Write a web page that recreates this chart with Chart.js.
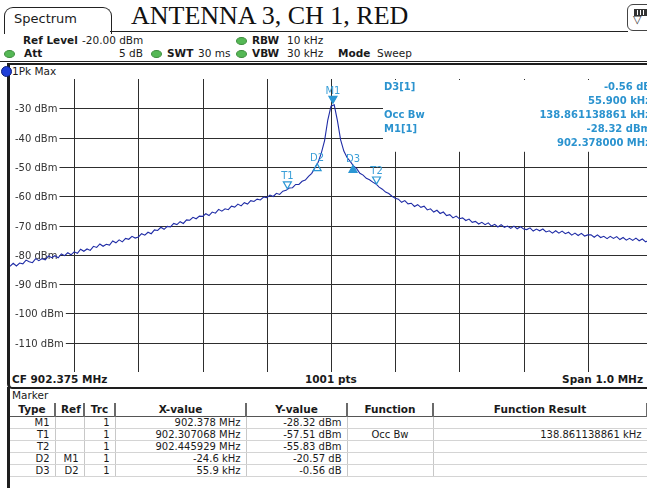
<!DOCTYPE html>
<html>
<head>
<meta charset="utf-8">
<script src="https://cdn.jsdelivr.net/npm/chart.js@4.4.1/dist/chart.umd.min.js"></script>
<style>
html,body{margin:0;padding:0;background:#fff;width:647px;height:488px;overflow:hidden;position:relative;font-family:"DejaVu Sans",Verdana,sans-serif;color:#1a1a1a}
.a{position:absolute;white-space:nowrap;line-height:12px;font-size:10.5px}
.b{font-weight:bold}
.dot{position:absolute;width:9px;height:6px;border-radius:50%;background:#55b855;border:0.5px solid #3d8d3d}
.info{position:absolute;white-space:nowrap;font:bold 10px "DejaVu Sans",sans-serif;color:#2b93cf;line-height:12px}
table{position:absolute;border-collapse:collapse;table-layout:fixed;font-size:10px;line-height:11px}
td,th{padding:0 5px;overflow:hidden;white-space:nowrap}
th{font-weight:bold;font-size:10.5px;height:13px;border-right:2px solid #6a6a6a;border-bottom:1px solid #555;text-align:center}
td{height:11px;border-right:1px solid #c8c8c8;border-bottom:1px solid #d4d4d4;text-align:right}
</style>
</head>
<body>
<script>
// ---------- DATA ----------
const centerFreqMHz = 902.375;
const spanMHz = 1.0;
const sweepPoints = 1001;
// trace frequency (kHz offset from centre frequency)
const freqKHz = [-500,-495,-490,-485,-480,-475,-470,-465,-460,-455,-450,-445,-440,-435,-430,-425,-420,-415,-410,-405,
-400,-395,-390,-385,-380,-375,-370,-365,-360,-355,-350,-345,-340,-335,-330,-325,-320,-315,-310,-305,
-300,-295,-290,-285,-280,-275,-270,-265,-260,-255,-250,-245,-240,-235,-230,-225,-220,-215,-210,-205,
-200,-195,-190,-185,-180,-175,-170,-165,-160,-155,-150,-145,-140,-135,-130,-125,-120,-115,-110,-105,
-100,-95,-90,-85,-80,-75,-70,-65,-60,-55,-50,-45,-40,-35,-30,-25,-20,-15,-10,-5,
0,
5,10,15,20,25,30,35,40,45,50,55,60,65,70,75,80,85,90,95,100,
105,110,115,120,125,130,135,140,145,150,155,160,165,170,175,180,185,190,195,200,
205,210,215,220,225,230,235,240,245,250,255,260,265,270,275,280,285,290,295,300,
305,310,315,320,325,330,335,340,345,350,355,360,365,370,375,380,385,390,395,400,
405,410,415,420,425,430,435,440,445,450,455,460,465,470,475,480,485,490,495,500];
// trace level (dBm), 1Pk Max
const levelDbm = [-83.9,-82.9,-83.8,-82.8,-83.1,-81.8,-82.4,-82.7,-81.3,-82.0,-81.3,-81.7,-80.4,-81.0,-80.3,-81.0,-79.7,-80.3,-79.3,-80.0,
-79.0,-79.5,-78.1,-78.8,-78.0,-78.5,-77.1,-77.5,-76.3,-77.1,-76.4,-76.7,-75.3,-75.9,-74.9,-75.6,-74.4,-74.7,-73.7,-74.3,
-73.9,-72.8,-73.3,-72.3,-72.8,-71.5,-71.7,-70.6,-71.3,-70.3,-70.5,-69.3,-69.7,-68.7,-69.3,-68.1,-68.2,-67.2,-67.7,-66.8,
-66.9,-66.0,-66.6,-65.4,-65.8,-64.5,-65.1,-64.3,-64.6,-63.4,-63.7,-62.7,-63.3,-62.2,-62.7,-61.5,-61.8,-61.0,-61.3,-60.3,
-60.5,-59.6,-60.1,-59.0,-59.4,-58.3,-58.0,-57.2,-57.1,-56.0,-56.0,-54.9,-54.5,-53.2,-52.2,-50.3,-48.4,-45.2,-41.0,-34.0,
-29.3,
-28.8,-34.2,-40.8,-44.6,-46.8,-48.1,-49.7,-50.6,-52.2,-52.8,-53.9,-54.4,-55.2,-55.8,-56.9,-57.6,-58.6,-59.1,-60.0,-60.7,
-61.0,-62.1,-61.5,-62.6,-62.4,-63.5,-62.9,-63.8,-63.4,-64.7,-64.3,-65.4,-64.8,-65.9,-65.4,-66.6,-66.3,-67.4,-66.8,-67.7,
-67.4,-68.3,-67.8,-68.9,-68.6,-69.5,-68.9,-69.7,-69.1,-70.2,-69.6,-70.5,-69.7,-70.6,-70.2,-71.0,-70.2,-71.1,-70.4,-71.2,
-71.4,-70.8,-71.9,-71.2,-71.8,-71.2,-72.2,-71.8,-72.6,-71.8,-72.6,-71.9,-72.8,-72.3,-73.3,-72.6,-73.4,-72.7,-73.6,-73.2,
-73.2,-74.0,-73.2,-74.1,-73.7,-74.5,-73.7,-74.4,-73.8,-74.8,-74.1,-75.0,-74.4,-75.1,-74.3,-75.2,-74.6,-75.6,-75.0,-75.6];
// axis grid / ticks
const xGridKHz = [-400,-300,-200,-100,0,100,200,300,400];
const yGridDbm = [-30,-40,-50,-60,-70,-80,-90,-100,-110];
const yTickLabels = ['-30 dBm','-40 dBm','-50 dBm','-60 dBm','-70 dBm','-80 dBm','-90 dBm','-100 dBm','-110 dBm'];
const refLevelDbm = -20;
const bottomLevelDbm = -120;
// markers
const markerNames = ['M1','T1','T2','D2','D3'];
const markerFreqKHz = [3.0, -67.932, 70.929, -21.6, 34.3];
const markerLevelDbm = [-28.32, -57.51, -55.83, -48.89, -49.45];
const markerPointsDown = [true, true, true, false, false];
const markerFilled = [true, false, false, false, true];
// marker table
const tableRows = [
  ['M1','', '1','902.378 MHz','-28.32 dBm','',''],
  ['T1','', '1','902.307068 MHz','-57.51 dBm','Occ Bw','138.861138861 kHz'],
  ['T2','', '1','902.445929 MHz','-55.83 dBm','',''],
  ['D2','M1','1','-24.6 kHz','-20.57 dB','',''],
  ['D3','D2','1','55.9 kHz','-0.56 dB','','']
];
const tableHeaders = ['Type','Ref','Trc','X-value','Y-value','Function','Function Result'];
</script>

<!-- tab + title -->
<div style="position:absolute;left:4px;top:7px;width:106px;height:26px;border:1.5px solid #222;border-bottom:none;border-radius:9px 9px 0 0;background:#fff"></div>
<div class="a" style="left:14px;top:12px;font-size:13px;line-height:14px">Spectrum</div>
<div class="a" style="left:131px;top:3px;font:26px 'Liberation Serif',serif;line-height:26px;color:#111">ANTENNA 3, CH 1, RED</div>
<!-- icon -->
<div style="position:absolute;left:627px;top:4px;width:26px;height:25px;border:1.5px solid #444;border-radius:6px;background:#fff"></div>
<div style="position:absolute;left:634px;top:9px;width:11px;height:5px;border:1px solid #333;background:repeating-linear-gradient(90deg,#333 0 2px,#fff 2px 3px)"></div>
<div class="a" style="left:633px;top:14px;font-size:11px;color:#333">▽</div>
<!-- header box lines -->
<div style="position:absolute;left:110px;top:31px;width:518px;height:0;border-top:1.5px solid #222"></div>
<div style="position:absolute;left:0px;top:61px;width:647px;height:0;border-top:1.5px solid #222"></div>
<!-- header row 1 -->
<div class="a b" style="left:23px;top:34px">Ref Level</div>
<div class="a" style="left:82px;top:34px">-20.00 dBm</div>
<div class="dot" style="left:236px;top:37px"></div>
<div class="a b" style="left:252px;top:34px">RBW</div>
<div class="a" style="left:287px;top:34px">10 kHz</div>
<!-- header row 2 -->
<div class="dot" style="left:4px;top:50px"></div>
<div class="a b" style="left:24px;top:47px">Att</div>
<div class="a" style="left:119px;top:47px">5 dB</div>
<div class="dot" style="left:151px;top:50px"></div>
<div class="a b" style="left:167px;top:47px">SWT</div>
<div class="a" style="left:198px;top:47px">30 ms</div>
<div class="dot" style="left:236px;top:50px"></div>
<div class="a b" style="left:252px;top:47px">VBW</div>
<div class="a" style="left:287px;top:47px">30 kHz</div>
<div class="a b" style="left:338px;top:47px">Mode</div>
<div class="a" style="left:377px;top:47px">Sweep</div>

<!-- trace window frame -->
<div style="position:absolute;left:7px;top:63px;width:660px;height:322px;border:2px solid #1e1e1e;border-right:none;border-radius:0 0 0 5px;border-left-width:3px"></div>
<div style="position:absolute;left:1px;top:66px;width:9px;height:9px;border-radius:50%;background:#1f3fd8;border:0.5px solid #10207a"></div>
<div class="a" style="left:12px;top:65px">1Pk Max</div>

<div id="plot" style="position:absolute;left:10px;top:79px;width:642px;height:293px"><canvas id="c"></canvas></div>

<!-- marker info box -->
<div class="info" style="left:384px;top:81px">D3[1]</div>
<div class="info" style="right:-4px;top:81px">-0.56 dB</div>
<div class="info" style="right:-4px;top:95px">55.900 kHz</div>
<div class="info" style="left:384px;top:109px">Occ Bw</div>
<div class="info" style="right:-4px;top:109px">138.861138861 kHz</div>
<div class="info" style="left:384px;top:123px">M1[1]</div>
<div class="info" style="right:-4px;top:123px">-28.32 dBm</div>
<div class="info" style="right:-4px;top:137px">902.378000 MHz</div>

<!-- bottom bar -->
<div class="a b" style="left:12px;top:373px">CF 902.375 MHz</div>
<div class="a b" style="left:305px;top:373px">1001 pts</div>
<div class="a b" style="right:4px;top:373px">Span 1.0 MHz</div>

<!-- marker table -->
<div style="position:absolute;left:7px;top:387px;width:3px;height:101px;background:#1e1e1e"></div>
<div class="a" style="left:12px;top:389px">Marker</div>
<div id="tbl"></div>

<script>
// build table
(function(){
  const widths=[45,29,31,131,101,86,214];
  let h='<table style="left:10px;top:403px;width:637px"><colgroup>'+widths.map(w=>'<col style="width:'+w+'px">').join('')+'</colgroup><tr>';
  h+=tableHeaders.map(t=>'<th>'+t+'</th>').join('')+'</tr>';
  tableRows.forEach(r=>{
    h+='<tr>'+r.map((c,i)=>'<td style="'+(i===5?'text-align:center':'')+'">'+c+'</td>').join('')+'</tr>';
  });
  h+='</table>';
  document.getElementById('tbl').innerHTML=h;
})();

const gridPlugin={
  id:'rsGrid',
  beforeDatasetsDraw(chart){
    const {ctx,chartArea:a,scales:{x,y}}=chart;
    ctx.save();
    ctx.strokeStyle='#2e2e2e';ctx.lineWidth=1;
    xGridKHz.forEach(v=>{const px=Math.round(x.getPixelForValue(v))+0.5;ctx.beginPath();ctx.moveTo(px,a.top);ctx.lineTo(px,a.bottom);ctx.stroke();});
    yGridDbm.forEach(v=>{const py=Math.round(y.getPixelForValue(v))+0.5;ctx.beginPath();ctx.moveTo(a.left,py);ctx.lineTo(a.right,py);ctx.stroke();});
    // marker info area (white)
    ctx.fillStyle='#fff';
    ctx.fillRect(373,a.top+1,a.right-373,y.getPixelForValue(-44.5)-a.top);
    // y tick labels
    ctx.font='10px "DejaVu Sans"';ctx.textBaseline='middle';ctx.textAlign='left';
    yGridDbm.forEach((v,i)=>{
      const py=Math.round(y.getPixelForValue(v))+0.5;
      const w=ctx.measureText(yTickLabels[i]).width;
      ctx.fillStyle='#fff';ctx.fillRect(a.left,py-6,w+7,12);
      ctx.fillStyle='#333';ctx.fillText(yTickLabels[i],a.left+5,py+0.5);
    });
    ctx.restore();
  },
  afterDatasetsDraw(chart){
    const {ctx,scales:{x,y}}=chart;
    ctx.save();
    ctx.font='10px "DejaVu Sans"';ctx.textAlign='center';ctx.textBaseline='alphabetic';
    markerNames.forEach((n,i)=>{
      const px=x.getPixelForValue(markerFreqKHz[i]);
      const py=y.getPixelForValue(markerLevelDbm[i]);
      ctx.beginPath();
      if(markerPointsDown[i]){ctx.moveTo(px-4,py-7);ctx.lineTo(px+4,py-7);ctx.lineTo(px,py);}
      else{ctx.moveTo(px,py);ctx.lineTo(px+4,py+7);ctx.lineTo(px-4,py+7);}
      ctx.closePath();
      ctx.strokeStyle='#2b97d4';ctx.lineWidth=1.2;
      if(markerFilled[i]){ctx.fillStyle='#2b97d4';ctx.fill();}
      ctx.stroke();
      ctx.fillStyle='#3a9fd8';
      ctx.fillText(n,px,markerPointsDown[i]?py-9.5:py-3);
    });
    ctx.restore();
  }
};

new Chart(document.getElementById('c'),{
  type:'line',
  data:{datasets:[{
    label:'1Pk Max',
    data:freqKHz.map((f,i)=>({x:f,y:levelDbm[i]})),
    borderColor:'#1f2ca6',borderWidth:1.1,pointRadius:0,tension:0,fill:false
  }]},
  options:{
    responsive:true,maintainAspectRatio:false,animation:false,
    layout:{padding:0},
    plugins:{legend:{display:false},tooltip:{enabled:false}},
    scales:{
      x:{type:'linear',display:false,min:-spanMHz*500,max:spanMHz*500},
      y:{type:'linear',display:false,min:bottomLevelDbm,max:refLevelDbm}
    }
  },
  plugins:[gridPlugin]
});
</script>
</body>
</html>
